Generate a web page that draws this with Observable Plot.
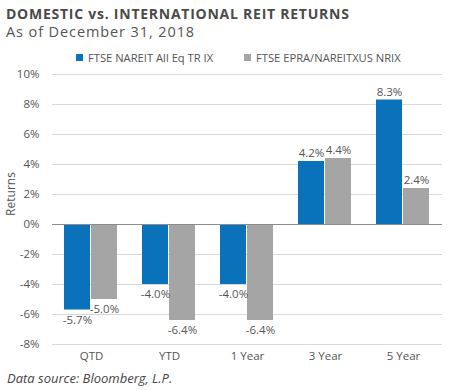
<!DOCTYPE html>
<html>
<head>
<meta charset="utf-8">
<script src="https://cdn.jsdelivr.net/npm/d3@7"></script>
<script src="https://cdn.jsdelivr.net/npm/@observablehq/plot@0.6"></script>
<style>
  body { margin: 0; width: 450px; height: 390px; position: relative; background: #fff; font-family: "Open Sans", sans-serif; color: #555; overflow: hidden; }
  #title { position: absolute; left: 6px; top: 4px; font-size: 14px; font-weight: 700; letter-spacing: 0.75px; color: #4a4a4a; white-space: nowrap; z-index: 2; }
  #subtitle { position: absolute; left: 6px; top: 22px; font-size: 14.5px; letter-spacing: 0.9px; color: #555; white-space: nowrap; z-index: 2; }
  .legitem { position: absolute; top: 50px; font-size: 11.2px; color: #555; white-space: nowrap; display: inline-flex; align-items: center; z-index: 2; }
  .legitem span.sw { display: inline-block; width: 7px; height: 7px; margin-right: 5px; }
  #chart { position: absolute; left: 0; top: 60px; z-index: 1; }
  #caption { position: absolute; left: 7px; top: 369px; font-size: 13px; font-style: italic; color: #444; white-space: nowrap; z-index: 2; }
</style>
</head>
<body>
<div id="title">DOMESTIC vs. INTERNATIONAL REIT RETURNS</div>
<div id="subtitle">As of December 31, 2018</div>
<div id="legend"></div>
<div id="chart"></div>
<div id="caption">Data source: Bloomberg, L.P.</div>
<script>
const categories = ["QTD", "YTD", "1 Year", "3 Year", "5 Year"];
const seriesNames = ["FTSE NAREIT All Eq TR IX", "FTSE EPRA/NAREITXUS NRIX"];
const domesticValues = [-5.7, -4.0, -4.0, 4.2, 8.3];
const internationalValues = [-5.0, -6.4, -6.4, 4.4, 2.4];
const seriesColors = ["#0a72ba", "#a5a5a6"];
const yTicks = [-8, -6, -4, -2, 0, 2, 4, 6, 8, 10];

const data = [];
categories.forEach((c, i) => {
  data.push({cat: c, series: seriesNames[0], value: domesticValues[i]});
  data.push({cat: c, series: seriesNames[1], value: internationalValues[i]});
});

// legend
const leg = document.getElementById("legend");
const legLefts = [76, 244];
seriesNames.forEach((s, i) => {
  const item = document.createElement("span");
  item.className = "legitem";
  item.style.left = legLefts[i] + "px";
  const sw = document.createElement("span");
  sw.className = "sw";
  sw.style.background = seriesColors[i];
  item.appendChild(sw);
  item.appendChild(document.createTextNode(s));
  leg.appendChild(item);
});

const fmt = v => v.toFixed(1) + "%";

const chart = Plot.plot({
  width: 450,
  height: 310,
  marginTop: 14,
  marginBottom: 26,
  marginLeft: 51,
  marginRight: 7,
  style: {fontFamily: "Open Sans, sans-serif", fontSize: "11.5px", color: "#555", background: "transparent"},
  fx: {domain: categories, padding: 0, label: null, axis: "bottom", tickSize: 0, tickPadding: 7},
  x: {domain: seriesNames, paddingInner: 0.03, paddingOuter: 0.42, axis: null},
  y: {domain: [-8, 10], ticks: yTicks, tickFormat: d => d + "%", label: null, tickSize: 0, tickPadding: 13},
  color: {domain: seriesNames, range: seriesColors},
  marks: [
    Plot.gridY(yTicks, {stroke: "#d9d9d9", strokeOpacity: 1}),
    Plot.barY(data, {fx: "cat", x: "series", y: "value", fill: "series"}),
    Plot.ruleY([0], {stroke: "#8c8c8c", strokeWidth: 1}),
    Plot.text(data.filter(d => d.value >= 0), {fx: "cat", x: "series", y: "value", text: d => fmt(d.value), dy: -8, fill: "#555", fontSize: 11.5}),
    Plot.text(data.filter(d => d.value < 0), {fx: "cat", x: "series", y: "value", text: d => fmt(d.value), dy: 10, fill: "#555", fontSize: 11.5})
  ]
});
// y-axis title "Returns", rotated, placed via d3 beside the axis
d3.select(chart).append("text")
  .attr("transform", "translate(15," + (14 + (310 - 14 - 26) / 2 - 15) + ") rotate(-90)")
  .attr("text-anchor", "middle")
  .attr("fill", "#555")
  .attr("font-size", 12)
  .text("Returns");
document.getElementById("chart").appendChild(chart);
</script>
</body>
</html>
